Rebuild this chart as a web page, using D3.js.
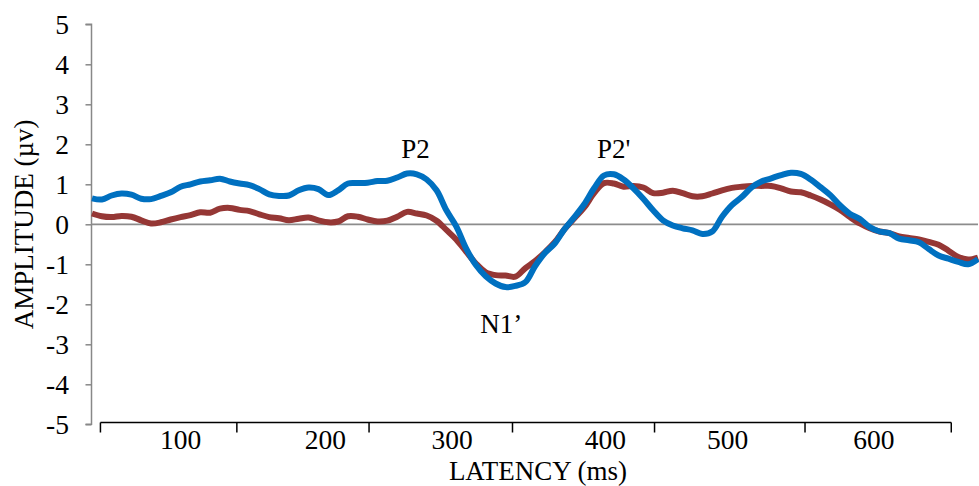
<!DOCTYPE html>
<html>
<head>
<meta charset="utf-8">
<script src="https://cdn.jsdelivr.net/npm/d3@7"></script>
<style>
  body { margin: 0; background: #fff; }
  svg { display: block; }
  text { font-family: "Liberation Serif", "Times New Roman", serif; fill: #000; }
</style>
</head>
<body>
<svg id="chart" width="979" height="486"></svg>
<script>
// Sample latencies (ms), one every 7 ms
const latency = [
  36, 43, 50, 57, 64, 71, 78, 85, 92, 99,
  106, 113, 120, 127, 134, 141, 148, 155, 162, 169,
  176, 183, 190, 197, 204, 211, 218, 225, 232, 239,
  246, 253, 260, 267, 274, 281, 288, 295, 302, 309,
  316, 323, 330, 337, 344, 351, 358, 365, 372, 379,
  386, 393, 400, 407, 414, 421, 428, 435, 442, 449,
  456, 463, 470, 477, 484, 491, 498, 505, 512, 519,
  526, 533, 540, 547, 554, 561, 568, 575, 582, 589,
  596, 603, 610, 617, 624, 631, 638, 645, 652, 659,
  666
];

// Amplitude (µv), blue waveform
const waveBlue = [
  0.65, 0.62, 0.72, 0.77, 0.74, 0.64, 0.63, 0.71, 0.80, 0.94,
  1.00, 1.07, 1.10, 1.14, 1.07, 1.02, 0.98, 0.88, 0.75, 0.71,
  0.72, 0.85, 0.92, 0.88, 0.73, 0.85, 1.02, 1.03, 1.04, 1.08,
  1.09, 1.17, 1.27, 1.25, 1.12, 0.85, 0.35, -0.05, -0.60, -1.02,
  -1.30, -1.48, -1.57, -1.54, -1.45, -1.05, -0.72, -0.48, -0.12, 0.18,
  0.50, 0.90, 1.22, 1.25, 1.12, 0.90, 0.64, 0.35, 0.10, -0.03,
  -0.10, -0.15, -0.24, -0.18, 0.19, 0.48, 0.68, 0.92, 1.07, 1.15,
  1.23, 1.29, 1.26, 1.12, 0.93, 0.73, 0.47, 0.26, 0.13, -0.07,
  -0.18, -0.22, -0.36, -0.40, -0.45, -0.62, -0.78, -0.86, -0.94, -1.00,
  -0.87
];

// Amplitude (µv), red waveform
const waveRed = [
  0.27, 0.20, 0.18, 0.21, 0.19, 0.10, 0.02, 0.05, 0.12, 0.18,
  0.23, 0.30, 0.29, 0.39, 0.41, 0.36, 0.33, 0.25, 0.18, 0.15,
  0.10, 0.14, 0.17, 0.10, 0.05, 0.07, 0.20, 0.19, 0.12, 0.07,
  0.09, 0.19, 0.31, 0.27, 0.22, 0.09, -0.14, -0.38, -0.68, -0.98,
  -1.20, -1.27, -1.28, -1.31, -1.10, -0.92, -0.70, -0.45, -0.12, 0.15,
  0.42, 0.78, 1.03, 1.02, 0.94, 0.96, 0.92, 0.78, 0.79, 0.84,
  0.78, 0.70, 0.70, 0.77, 0.85, 0.91, 0.94, 0.96, 0.96, 0.96,
  0.90, 0.82, 0.80, 0.72, 0.62, 0.50, 0.36, 0.18, 0.02, -0.10,
  -0.18, -0.22, -0.30, -0.34, -0.38, -0.44, -0.51, -0.66, -0.82, -0.88,
  -0.83
];

// Axis ticks
const yTicks = [-5, -4, -3, -2, -1, 0, 1, 2, 3, 4, 5];
const xTickMarks = [42, 139, 233, 335, 436, 543, 647];
const xLabelAt = [99, 202, 292, 401, 488, 592];
const xLabels = ["100", "200", "300", "400", "500", "600"];

// Component labels
const peakNames = ["P2", "P2'", "N1\u2019"];
const peakLatency = [266, 407, 327];
const peakValue = [1.66, 1.66, -2.72];

const svg = d3.select("#chart");
svg.append("rect").attr("width", 979).attr("height", 486).attr("fill", "#fff");

const x = d3.scaleLinear().domain([36, 666]).range([92, 978]);
const y = d3.scaleLinear().domain([-5, 5]).range([424.3, 24.3]);

// Y axis (grey), plain hyphen for negatives
const yAxis = d3.axisLeft(y).tickValues(yTicks).tickSize(6).tickPadding(16)
  .tickFormat(d => String(d));
const gy = svg.append("g").attr("transform", "translate(91.5,0)").call(yAxis);
gy.select(".domain").attr("stroke", "#888").attr("stroke-width", 1.5)
  .attr("d", `M-6,${y(5)}H0V${y(-5)}H-6`);
gy.selectAll(".tick line").attr("stroke", "#888").attr("stroke-width", 1.5);
gy.selectAll(".tick text").attr("font-size", 27.5)
  .attr("font-family", "Liberation Serif, Times New Roman, serif")
  .attr("fill", "#000").attr("dy", "0.34em").attr("x", -22.5);

// Zero reference line
svg.append("line")
  .attr("x1", 91.5).attr("x2", 978)
  .attr("y1", y(0)).attr("y2", y(0))
  .attr("stroke", "#8c8c8c").attr("stroke-width", 1.8);

// X axis (black) along the bottom
const axisY = 422.5;
svg.append("line")
  .attr("x1", x(xTickMarks[0])).attr("x2", x(xTickMarks[xTickMarks.length - 1]))
  .attr("y1", axisY).attr("y2", axisY)
  .attr("stroke", "#000").attr("stroke-width", 1.5);
svg.append("g").selectAll("line").data(xTickMarks).join("line")
  .attr("x1", d => x(d)).attr("x2", d => x(d))
  .attr("y1", axisY).attr("y2", axisY + 10)
  .attr("stroke", "#000").attr("stroke-width", 1.5);
svg.append("g").selectAll("text").data(xLabels).join("text")
  .attr("x", (d, i) => x(xLabelAt[i]))
  .attr("y", 449)
  .attr("text-anchor", "middle")
  .attr("font-size", 27.5)
  .text(d => d);

// Axis titles
svg.append("text")
  .attr("x", 538).attr("y", 480)
  .attr("text-anchor", "middle").attr("font-size", 27)
  .text("LATENCY (ms)");
svg.append("text")
  .attr("transform", `translate(33,${y(0)}) rotate(-90)`)
  .attr("text-anchor", "middle").attr("font-size", 27)
  .text("AMPLITUDE (\u00b5v)");

// Waveforms
const line = d3.line()
  .x((d, i) => x(latency[i]))
  .y(d => y(d))
  .curve(d3.curveCatmullRom.alpha(0.5));

svg.append("path").datum(waveRed)
  .attr("fill", "none").attr("stroke", "#953735")
  .attr("stroke-width", 6).attr("stroke-linejoin", "round")
  .attr("d", line);
svg.append("path").datum(waveBlue)
  .attr("fill", "none").attr("stroke", "#0070c0")
  .attr("stroke-width", 6).attr("stroke-linejoin", "round")
  .attr("d", line);

// Component labels
svg.append("g").selectAll("text").data(peakNames).join("text")
  .attr("x", (d, i) => x(peakLatency[i]))
  .attr("y", (d, i) => y(peakValue[i]))
  .attr("text-anchor", "middle")
  .attr("font-size", 27)
  .text(d => d);
</script>
</body>
</html>
